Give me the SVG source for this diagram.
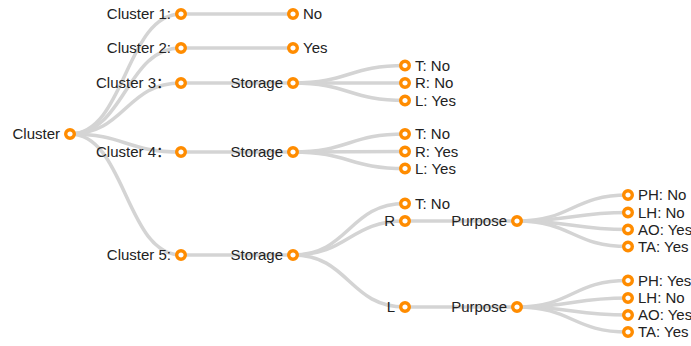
<svg xmlns="http://www.w3.org/2000/svg" width="691" height="346" viewBox="0 0 691 346">
<style>
.link{fill:none;stroke:#d4d4d4;stroke-width:3.5px}
.node circle{fill:#fff;stroke:#ff8c00;stroke-width:3.4px}
.node text{font-family:"Liberation Sans","Noto Sans CJK SC",Arial,sans-serif;font-size:15px;fill:#222}
.l{text-anchor:end}
</style>
<rect width="691" height="346" fill="#fff"/>
<g id="links">
<path class="link" d="M70,134C125.5,134 125.5,14 181,14"/>
<path class="link" d="M70,134C125.5,134 125.5,48 181,48"/>
<path class="link" d="M70,134C125.5,134 125.5,83 181,83"/>
<path class="link" d="M70,134C125.5,134 125.5,152 181,152"/>
<path class="link" d="M70,134C125.5,134 125.5,255 181,255"/>
<path class="link" d="M181,14L293,14"/>
<path class="link" d="M181,48L293,48"/>
<path class="link" d="M181,83L293,83"/>
<path class="link" d="M181,152L293,152"/>
<path class="link" d="M181,255L293,255"/>
<path class="link" d="M293,83C349,83 349,65.5 405,65.5"/>
<path class="link" d="M293,83L405,83"/>
<path class="link" d="M293,83C349,83 349,100.5 405,100.5"/>
<path class="link" d="M293,152C349,152 349,134 405,134"/>
<path class="link" d="M293,152L405,151.5"/>
<path class="link" d="M293,152C349,152 349,168.5 405,168.5"/>
<path class="link" d="M293,255C349,255 349,203.5 405,203.5"/>
<path class="link" d="M293,255C349,255 349,221 405,221"/>
<path class="link" d="M293,255C349,255 349,307 405,307"/>
<path class="link" d="M405,221L517,221"/>
<path class="link" d="M405,307L517,307"/>
<path class="link" d="M517,221C572.5,221 572.5,195 628,195"/>
<path class="link" d="M517,221C572.5,221 572.5,212.5 628,212.5"/>
<path class="link" d="M517,221C572.5,221 572.5,229.5 628,229.5"/>
<path class="link" d="M517,221C572.5,221 572.5,246.5 628,246.5"/>
<path class="link" d="M517,307C572.5,307 572.5,280.5 628,280.5"/>
<path class="link" d="M517,307C572.5,307 572.5,298 628,298"/>
<path class="link" d="M517,307C572.5,307 572.5,315 628,315"/>
<path class="link" d="M517,307C572.5,307 572.5,332 628,332"/>
</g>
<g id="n-root" class="node" transform="translate(70,134)"><circle r="4.3"/><text class="l" x="-10" dy="0.35em">Cluster</text></g>
<g id="n-c1" class="node" transform="translate(181,14)"><circle r="4.3"/><text class="l" x="-10" dy="0.35em">Cluster 1:</text></g>
<g id="n-c1-no" class="node" transform="translate(293,14)"><circle r="4.3"/><text x="10" dy="0.35em">No</text></g>
<g id="n-c2" class="node" transform="translate(181,48)"><circle r="4.3"/><text class="l" x="-10" dy="0.35em">Cluster 2:</text></g>
<g id="n-c2-yes" class="node" transform="translate(293,48)"><circle r="4.3"/><text x="10" dy="0.35em">Yes</text></g>
<g id="n-c3" class="node" transform="translate(181,83)"><circle r="4.3"/><text class="l" x="-10" dy="0.35em">Cluster 3：</text></g>
<g id="n-c3-s" class="node" transform="translate(293,83)"><circle r="4.3"/><text class="l" x="-10" dy="0.35em">Storage</text></g>
<g id="n-c3-t" class="node" transform="translate(405,65.5)"><circle r="4.3"/><text x="10" dy="0.35em">T: No</text></g>
<g id="n-c3-r" class="node" transform="translate(405,83)"><circle r="4.3"/><text x="10" dy="0.35em">R: No</text></g>
<g id="n-c3-l" class="node" transform="translate(405,100.5)"><circle r="4.3"/><text x="10" dy="0.35em">L: Yes</text></g>
<g id="n-c4" class="node" transform="translate(181,152)"><circle r="4.3"/><text class="l" x="-10" dy="0.35em">Cluster 4：</text></g>
<g id="n-c4-s" class="node" transform="translate(293,152)"><circle r="4.3"/><text class="l" x="-10" dy="0.35em">Storage</text></g>
<g id="n-c4-t" class="node" transform="translate(405,134)"><circle r="4.3"/><text x="10" dy="0.35em">T: No</text></g>
<g id="n-c4-r" class="node" transform="translate(405,151.5)"><circle r="4.3"/><text x="10" dy="0.35em">R: Yes</text></g>
<g id="n-c4-l" class="node" transform="translate(405,168.5)"><circle r="4.3"/><text x="10" dy="0.35em">L: Yes</text></g>
<g id="n-c5" class="node" transform="translate(181,255)"><circle r="4.3"/><text class="l" x="-10" dy="0.35em">Cluster 5:</text></g>
<g id="n-c5-s" class="node" transform="translate(293,255)"><circle r="4.3"/><text class="l" x="-10" dy="0.35em">Storage</text></g>
<g id="n-c5-t" class="node" transform="translate(405,203.5)"><circle r="4.3"/><text x="10" dy="0.35em">T: No</text></g>
<g id="n-c5-r" class="node" transform="translate(405,221)"><circle r="4.3"/><text class="l" x="-10" dy="0.35em">R</text></g>
<g id="n-c5-l" class="node" transform="translate(405,307)"><circle r="4.3"/><text class="l" x="-10" dy="0.35em">L</text></g>
<g id="n-r-p" class="node" transform="translate(517,221)"><circle r="4.3"/><text class="l" x="-10" dy="0.35em">Purpose</text></g>
<g id="n-l-p" class="node" transform="translate(517,307)"><circle r="4.3"/><text class="l" x="-10" dy="0.35em">Purpose</text></g>
<g id="n-r-ph" class="node" transform="translate(628,195)"><circle r="4.3"/><text x="10" dy="0.35em">PH: No</text></g>
<g id="n-r-lh" class="node" transform="translate(628,212.5)"><circle r="4.3"/><text x="10" dy="0.35em">LH: No</text></g>
<g id="n-r-ao" class="node" transform="translate(628,229.5)"><circle r="4.3"/><text x="10" dy="0.35em">AO: Yes</text></g>
<g id="n-r-ta" class="node" transform="translate(628,246.5)"><circle r="4.3"/><text x="10" dy="0.35em">TA: Yes</text></g>
<g id="n-l-ph" class="node" transform="translate(628,280.5)"><circle r="4.3"/><text x="10" dy="0.35em">PH: Yes</text></g>
<g id="n-l-lh" class="node" transform="translate(628,298)"><circle r="4.3"/><text x="10" dy="0.35em">LH: No</text></g>
<g id="n-l-ao" class="node" transform="translate(628,315)"><circle r="4.3"/><text x="10" dy="0.35em">AO: Yes</text></g>
<g id="n-l-ta" class="node" transform="translate(628,332)"><circle r="4.3"/><text x="10" dy="0.35em">TA: Yes</text></g>
</svg>
